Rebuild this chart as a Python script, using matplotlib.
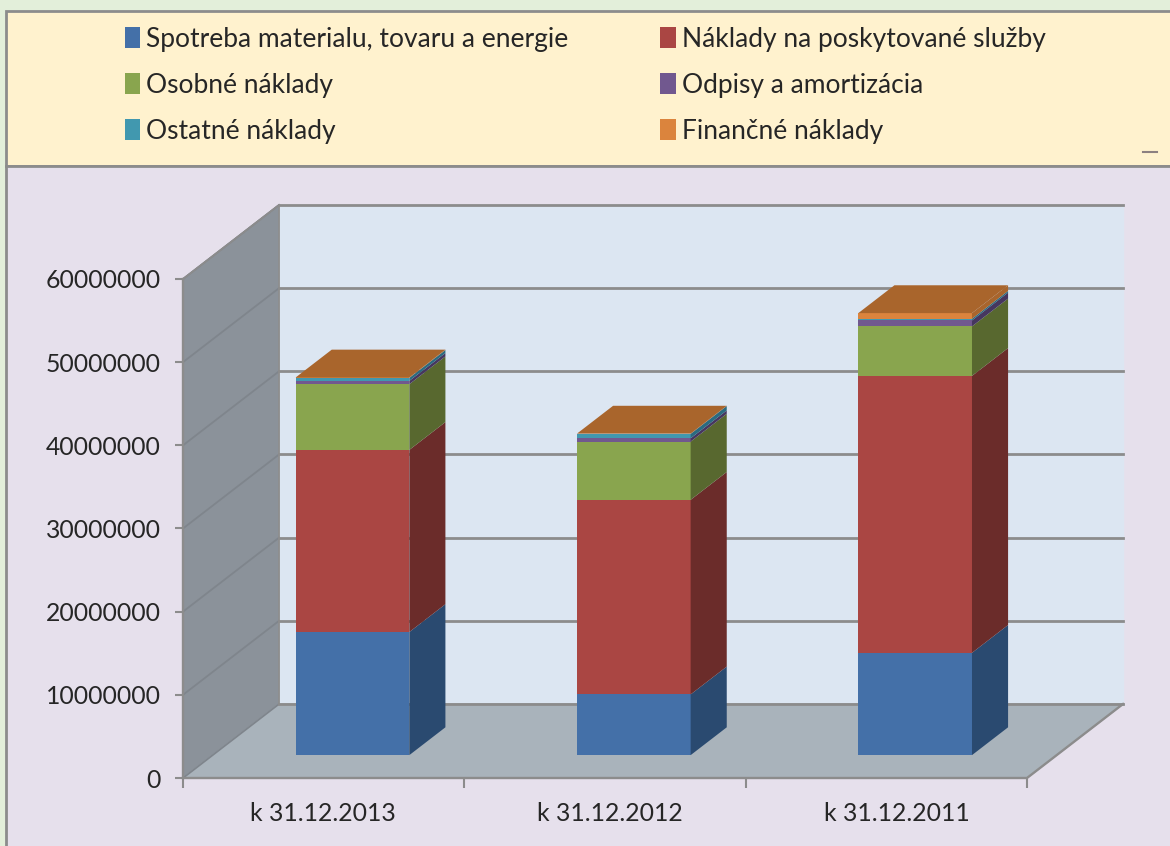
import matplotlib
matplotlib.use("Agg")
import matplotlib.pyplot as plt
from matplotlib.patches import Patch, Rectangle
import numpy as np

# hodnoty odcitane z obrazku
kategorie = ["k 31.12.2013", "k 31.12.2012", "k 31.12.2011"]
spotreba = [14800000, 7300000, 12300000]
sluzby = [21900000, 23400000, 33300000]
osobne = [7900000, 7000000, 5950000]
odpisy = [400000, 400000, 720000]
ostatne = [360000, 530000, 200000]
financne = [50000, 30000, 680000]

nazvy = ["Spotreba materialu, tovaru a energie", "Náklady na poskytované služby",
         "Osobné náklady", "Odpisy a amortizácia",
         "Ostatné náklady", "Finančné náklady"]
serie = [spotreba, sluzby, osobne, odpisy, ostatne, financne]
farby = ["#4470A8", "#AA4643", "#89A54E", "#71588F", "#4198AF", "#DB843D"]
bocne = ["#2A4A70", "#6B2C2A", "#58682F", "#46365F", "#2A6B80", "#A9652C"]
vrch = "#A9652C"
y_ticks = np.arange(0, 70000000, 10000000)

W, H = 1170, 846
fig = plt.figure(figsize=(W / 100, H / 100), dpi=100, facecolor="#E3EFDA")

# pozadie: panely legendy a grafu
bg = fig.add_axes([0, 0, 1, 1])
bg.set_xlim(0, W)
bg.set_ylim(H, 0)
bg.axis("off")
bg.add_patch(Rectangle((5.5, 11), W, 155, fc="#FFF2CE", ec="#8C8C8C", lw=2))
bg.add_patch(Rectangle((5.5, 166), W, H, fc="#E6E0EC", ec="#8C8C8C", lw=2))
bg.plot([1143, 1157], [152, 152], color="#8C8080", lw=1.5)

# predna rovina grafu = osi
ax = fig.add_axes([183 / W, (H - 778) / H, 844 / W, 499 / H], facecolor="none")
ax.set_xlim(0, 3)
ax.set_ylim(0, 60000000)
for s in ax.spines.values():
    s.set_visible(False)

# hlbka 3D v jednotkach dat
DX = 96 / 844 * 3
DY = 74 / 499 * 60000000
D0, D1 = 0.309, 0.685
sirka = 0.404

# steny a podlaha
ax.fill([0, DX, DX, 0], [0, DY, 60000000 + DY, 60000000], color="#8B929A", zorder=1, clip_on=False)
ax.fill([DX, 3 + DX, 3 + DX, DX], [DY, DY, 60000000 + DY, 60000000 + DY], color="#DCE6F2", zorder=1, clip_on=False)
ax.fill([0, 3, 3 + DX, DX], [0, 0, DY, DY], color="#A9B3BB", zorder=1, clip_on=False)

for v in y_ticks:
    ax.plot([0, DX], [v, v + DY], color="#7F858C", lw=1.3, zorder=2, clip_on=False)
    ax.plot([DX, 3 + DX], [v + DY, v + DY], color="#8C8C8C", lw=2, zorder=2, clip_on=False)
ax.plot([DX, DX], [DY, 60000000 + DY], color="#8C8C8C", lw=1.3, zorder=2, clip_on=False)
ax.plot([0, 3, 3 + DX], [0, 0, DY], color="#8C8C8C", lw=1.7, zorder=2, clip_on=False)
ax.plot([0, 0], [0, 60000000], color="#8C8C8C", lw=1.7, zorder=2, clip_on=False)
ax.plot([0, DX], [60000000, 60000000 + DY], color="#8C8C8C", lw=1.3, zorder=2, clip_on=False)

# stlpce
stredy = np.arange(3) + 0.5
x_stlpce = stredy - 0.003 + D0 * DX
hlbka_x = (D1 - D0) * DX
hlbka_y = (D1 - D0) * DY
dno = np.zeros(3) + D0 * DY
for hodnoty, f, b in zip(serie, farby, bocne):
    hodnoty = np.array(hodnoty)
    ax.bar(x_stlpce, hodnoty, sirka, bottom=dno, color=f, zorder=3, clip_on=False)
    for st, d, h in zip(x_stlpce, dno, hodnoty):
        xr = st + sirka / 2
        ax.fill([xr, xr + hlbka_x, xr + hlbka_x, xr],
                [d, d + hlbka_y, d + h + hlbka_y, d + h],
                color=b, lw=0, zorder=3, clip_on=False)
    dno = dno + hodnoty
for st, d in zip(x_stlpce, dno):
    xl, xr = st - sirka / 2, st + sirka / 2
    ax.fill([xl, xr, xr + hlbka_x, xl + hlbka_x],
            [d, d, d + hlbka_y, d + hlbka_y],
            color=vrch, lw=0, zorder=3, clip_on=False)

# osi - popisky kategorii nie su presne v strede intervalov
ax.set_yticks(y_ticks)
ax.set_yticklabels([str(v) for v in y_ticks], family="Lato", fontsize=17.8, color="#262626")
ax.set_xticks(np.arange(4))
ax.set_xticklabels([])
ax.set_xticks([0.498, 1.518, 2.538], minor=True)
ax.set_xticklabels(kategorie, minor=True, family="Lato", fontsize=17.8, color="#262626")
ax.tick_params(axis="y", length=6, width=1.5, color="#8C8C8C", pad=10)
ax.tick_params(axis="x", which="major", length=7, width=1.5, color="#8C8C8C")
ax.tick_params(axis="x", which="minor", length=0, pad=17)

# legenda - po stlpcoch, preto prehodene poradie
poradie = [0, 2, 4, 1, 3, 5]
handles = [Patch(facecolor=farby[i], edgecolor="none", label=nazvy[i]) for i in poradie]
leg = fig.legend(handles=handles, ncol=2, loc="upper left", bbox_to_anchor=(101 / W, 1 - 3 / H),
                 frameon=False, prop={"family": "Lato", "size": 19},
                 handlelength=0.57, handleheight=0.83, handletextpad=0.23,
                 labelspacing=0.8, columnspacing=3.5, labelcolor="#262626")

fig.savefig("out.png", dpi=100, facecolor=fig.get_facecolor())
